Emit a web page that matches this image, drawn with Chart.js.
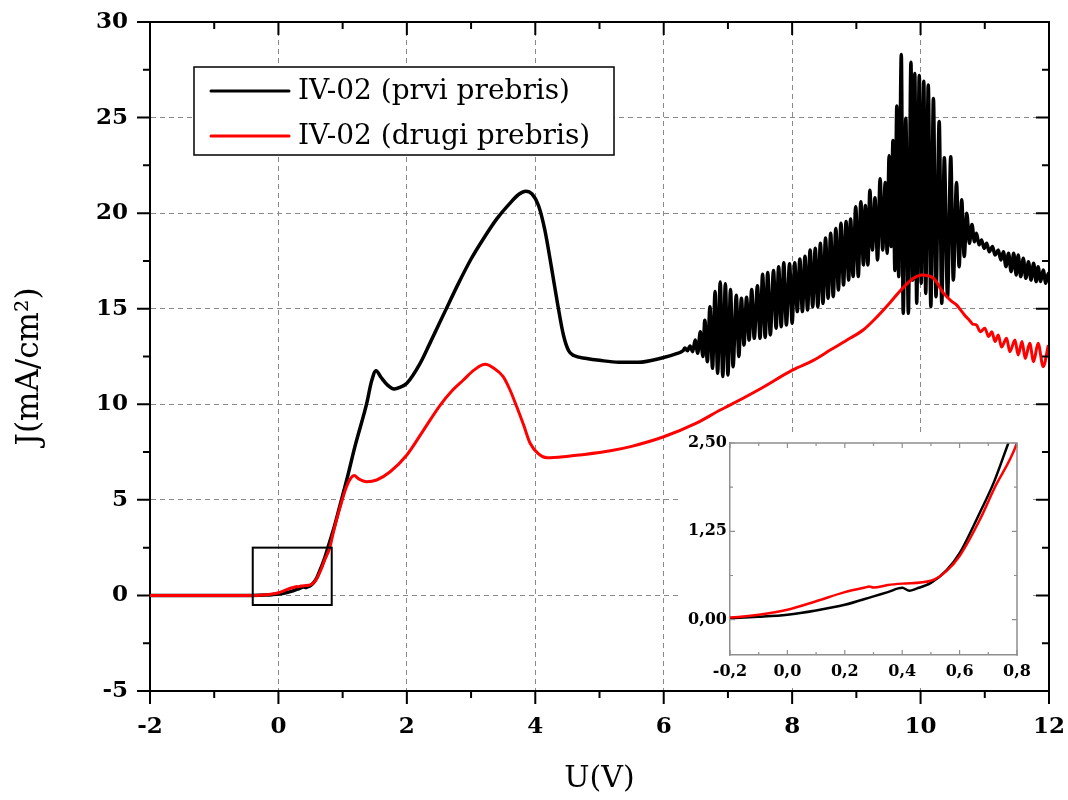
<!DOCTYPE html>
<html>
<head>
<meta charset="utf-8">
<script src="https://cdn.jsdelivr.net/npm/chart.js@4.4.1/dist/chart.umd.min.js"></script>
<style>
  html, body { margin: 0; padding: 0; background: #fff; }
  #wrap { position: relative; width: 1068px; height: 800px; }
  #main { position: absolute; left: 0; top: 0; }
  #inset { position: absolute; left: 680px; top: 432px; }
</style>
</head>
<body>
<div id="wrap">
  <canvas id="main" width="1068" height="800"></canvas>
  <canvas id="inset" width="350" height="252"></canvas>
</div>
<script>
const seriesLabels = ['IV-02 (prvi prebris)', 'IV-02 (drugi prebris)'];
const seriesColors = ['#000000', '#ff0000'];
const axisTitleU = 'U(V)';
const axisTitleJ = 'J(mA/cm²)';

// First sweep: smooth part of the curve, U in V, J in mA/cm2
const prviU = [-2, -1.5, -1, -0.5, -0.3, -0.2, -0.1, 0, 0.1, 0.2, 0.3, 0.35, 0.4, 0.425, 0.45, 0.5, 0.555, 0.6, 0.67, 0.72, 0.77,
  0.855, 0.95, 1.06, 1.2, 1.375, 1.45, 1.52, 1.6, 1.7, 1.8, 1.9, 2.0, 2.2, 2.36, 2.6, 2.8, 3.0, 3.2, 3.4, 3.6, 3.75, 3.85, 3.95,
  4.05, 4.15, 4.25, 4.35, 4.44, 4.52, 4.6, 4.8, 5.0, 5.3, 5.6, 6.0, 6.2, 6.3];
const prviJ = [0, 0, 0, 0, 0.01, 0.02, 0.04, 0.07, 0.13, 0.21, 0.33, 0.39, 0.45, 0.41, 0.44, 0.52, 0.70, 0.94, 1.51, 1.95, 2.5,
  3.42, 4.6, 6.0, 7.9, 10.05, 11.2, 11.76, 11.4, 11.0, 10.8, 10.9, 11.1, 12.1, 13.2, 14.9, 16.3, 17.6, 18.7, 19.7, 20.5, 21.0, 21.15, 21.0,
  20.4, 19.1, 17.2, 15.2, 13.6, 12.8, 12.55, 12.4, 12.3, 12.2, 12.2, 12.45, 12.65, 12.8];

// First sweep: oscillating part (alternating maxima and minima)
const prviOscU = [6.33, 6.37, 6.41, 6.45, 6.49, 6.53, 6.57, 6.61, 6.64, 6.68, 6.72, 6.76, 6.80, 6.84, 6.88, 6.92, 6.96, 7.00,
  7.04, 7.08, 7.13, 7.17, 7.21, 7.25, 7.29, 7.33, 7.37, 7.41, 7.46, 7.50, 7.54, 7.58, 7.62, 7.66, 7.71, 7.75, 7.79, 7.83,
  7.87, 7.91, 7.96, 8.00, 8.04, 8.08, 8.12, 8.16, 8.20, 8.24, 8.28, 8.32, 8.36, 8.40, 8.44, 8.48, 8.52, 8.56, 8.60, 8.64,
  8.68, 8.72, 8.76, 8.80, 8.84, 8.88, 8.91, 8.95, 8.99, 9.03, 9.07, 9.11, 9.14, 9.18, 9.21, 9.25, 9.29, 9.33, 9.37, 9.41,
  9.45, 9.48, 9.51, 9.54, 9.57, 9.60, 9.63, 9.66, 9.70, 9.73, 9.77, 9.81, 9.85, 9.88, 9.91, 9.94, 9.98, 10.01, 10.05, 10.08,
  10.12, 10.16, 10.20, 10.24, 10.29, 10.33, 10.37, 10.42, 10.47, 10.51, 10.56, 10.60, 10.64, 10.68, 10.72, 10.76, 10.80, 10.84,
  10.87, 10.91, 10.95, 10.99, 11.03, 11.07, 11.12, 11.16, 11.21, 11.25, 11.29, 11.33, 11.37, 11.41, 11.45, 11.49, 11.52, 11.56,
  11.60, 11.64, 11.68, 11.72, 11.76, 11.80, 11.83, 11.87, 11.91, 11.95, 11.99, 12.0];
const prviOscJ = [12.95, 12.80, 13.05, 12.75, 13.36, 12.67, 13.8, 12.5, 14.4, 12.23, 15.1, 11.88, 15.9, 11.62, 16.4, 11.45, 16.3, 11.53,
  16.0, 11.97, 15.7, 12.5, 15.55, 13.1, 15.6, 13.36, 16.0, 13.45, 16.2, 13.45, 16.8, 13.5, 16.9, 13.63, 17.0, 13.98, 17.2, 14.06,
  17.4, 14.15, 17.35, 14.24, 17.4, 14.85, 17.6, 14.85, 17.75, 14.93, 18.07, 15.1, 18.16, 15.1, 18.42, 15.28, 18.7, 15.55, 18.95, 15.63,
  19.2, 15.98, 19.47, 16.24, 19.56, 16.5, 19.7, 16.68, 20.34, 16.68, 20.6, 17.29, 20.4, 17.29, 21.2, 18.07, 20.8, 17.55, 21.8, 18.07,
  21.6, 17.9, 23.0, 18.25, 23.8, 17.0, 25.6, 16.68, 28.3, 14.76, 24.97, 14.76, 27.9, 16.5, 27.3, 15.28, 27.2, 16.33, 26.9, 15.8,
  26.7, 15.1, 26.0, 15.63, 24.8, 15.28, 22.9, 15.63, 22.95, 16.5, 21.6, 17.2, 20.7, 17.73, 20.0, 18.42, 19.4, 18.5,
  18.95, 18.34, 18.6, 18.16, 18.42, 17.98, 18.25, 17.81, 18.07, 17.55, 17.98, 17.2, 17.9, 16.94, 17.9, 16.77, 17.81, 16.68,
  17.64, 16.59, 17.46, 16.5, 17.38, 16.42, 17.2, 16.42, 17.03, 16.33, 16.85, 16.6];

// Second sweep: smooth part
const drugiU = [-2, -1.5, -1, -0.5, -0.3, -0.2, -0.1, 0, 0.1, 0.2, 0.27, 0.285, 0.30, 0.35, 0.4, 0.5, 0.555, 0.6, 0.67, 0.72, 0.8,
  0.855, 0.95, 1.06, 1.13, 1.18, 1.25, 1.375, 1.53, 1.74, 2.0, 2.25, 2.52, 2.7, 2.88, 3.05, 3.22, 3.35, 3.5, 3.6, 3.71, 3.82, 3.92,
  4.05, 4.18, 4.44, 4.7, 5.17, 5.5, 6.0, 6.5, 6.88, 7.0, 7.5, 8.01, 8.33, 8.6, 8.9, 9.11, 9.3, 9.52, 9.7, 9.89, 10.02, 10.2,
  10.36, 10.48, 10.56];
const drugiJ = [0, 0, 0, 0, 0.01, 0.03, 0.07, 0.14, 0.26, 0.39, 0.455, 0.47, 0.455, 0.49, 0.51, 0.55, 0.69, 0.9, 1.41, 1.85, 2.5,
  3.3, 4.5, 5.69, 6.15, 6.27, 6.1, 5.95, 6.04, 6.47, 7.35, 8.6, 9.96, 10.7, 11.27, 11.8, 12.09, 11.9, 11.45, 10.8, 9.88, 8.9, 7.96,
  7.4, 7.2, 7.25, 7.35, 7.57, 7.8, 8.3, 9.0, 9.7, 9.9, 10.8, 11.8, 12.3, 12.85, 13.45, 13.9, 14.5, 15.3, 16.0, 16.6, 16.77, 16.6,
  15.8, 15.4, 15.2];

// Second sweep: ripple at the high-voltage end
const drugiOscU = [10.62, 10.69, 10.76, 10.81, 10.87, 10.93, 11.0, 11.06, 11.11, 11.16, 11.21, 11.26, 11.34, 11.39, 11.47, 11.52,
  11.58, 11.63, 11.70, 11.76, 11.83, 11.91, 11.99];
const drugiOscJ = [14.95, 14.65, 14.4, 14.2, 14.15, 13.8, 13.98, 13.54, 13.8, 13.28, 13.63, 13.0, 13.45, 12.75, 13.36, 12.58,
  13.28, 12.4, 13.19, 12.23, 13.19, 11.97, 13.1];

// Axis ticks
const mainXMajor = [-2, 0, 2, 4, 6, 8, 10, 12];
const mainXMinor = [-1, 1, 3, 5, 7, 9, 11];
const mainYMajor = [-5, 0, 5, 10, 15, 20, 25, 30];
const mainYMinor = [-2.5, 2.5, 7.5, 12.5, 17.5, 22.5, 27.5];
const insetXMajor = [-0.2, 0, 0.2, 0.4, 0.6, 0.8];
const insetXMinor = [-0.1, 0.1, 0.3, 0.5, 0.7];
const insetYMajor = [0, 1.25, 2.5];
const insetYMinor = [0.625, 1.875];

// Region shown enlarged in the inset
const zoomBoxU = [-0.4, 0.83];
const zoomBoxJ = [-0.5, 2.5];

const serif = "'DejaVu Serif', 'Liberation Serif', serif";

function toPoints(us, js) { return us.map((u, i) => ({ x: u, y: js[i] })); }
const prviData = toPoints(prviU.concat(prviOscU), prviJ.concat(prviOscJ));
const drugiData = toPoints(drugiU.concat(drugiOscU), drugiJ.concat(drugiOscJ));

function makeDatasets(widths) {
  return [
    { label: seriesLabels[0], data: prviData, borderColor: seriesColors[0], backgroundColor: seriesColors[0],
      borderWidth: widths[0], pointRadius: 0, cubicInterpolationMode: 'monotone', order: 1 },
    { label: seriesLabels[1], data: drugiData, borderColor: seriesColors[1], backgroundColor: seriesColors[1],
      borderWidth: widths[1], pointRadius: 0, cubicInterpolationMode: 'monotone', order: 0 }
  ];
}

function setTicks(values) {
  return function (scale) { scale.ticks = values.map(v => ({ value: v })); };
}

// fixed axis box sizes; label overhang is absorbed by the layout padding
function fitX(h) {
  return function (s) { s.height = h; s.paddingLeft = 0; s.paddingRight = 0; };
}
function fitY(w) {
  return function (s) { s.width = w; s.paddingTop = 0; s.paddingBottom = 0; };
}

function commaFmt(digits) {
  return function (v) {
    const n = Math.abs(v) < 1e-9 ? 0 : v;
    return n.toFixed(digits).replace('.', ',');
  };
}

// Frame with mirrored axes and major/minor tick marks
function drawFrame(chart, o) {
  const { ctx, chartArea: a } = chart;
  const xs = chart.scales.x, ys = chart.scales.y;
  ctx.save();
  ctx.strokeStyle = o.color;
  ctx.lineWidth = o.axisWidth;
  ctx.beginPath();
  ctx.moveTo(a.left - o.axisWidth / 2, a.top);
  ctx.lineTo(a.right, a.top);
  ctx.lineTo(a.right, a.bottom + o.axisWidth / 2);
  ctx.stroke();
  ctx.lineWidth = o.tickWidth;
  ctx.beginPath();
  const xt = (vals, len) => vals.forEach(v => {
    const p = xs.getPixelForValue(v);
    ctx.moveTo(p, a.bottom); ctx.lineTo(p, a.bottom + o.bottomSign * len);
    ctx.moveTo(p, a.top); ctx.lineTo(p, a.top + len);
  });
  const yt = (vals, len) => vals.forEach(v => {
    const p = ys.getPixelForValue(v);
    ctx.moveTo(a.left, p); ctx.lineTo(a.left + o.leftSign * len, p);
    ctx.moveTo(a.right, p); ctx.lineTo(a.right - len, p);
  });
  xt(o.xMajor, o.majorLen); xt(o.xMinor, o.minorLen);
  yt(o.yMajor, o.majorLen); yt(o.yMinor, o.minorLen);
  ctx.stroke();
  ctx.restore();
}

const mainDecor = {
  id: 'mainDecor',
  afterDatasetsDraw(chart) {
    const { ctx, chartArea: a } = chart;
    const xs = chart.scales.x, ys = chart.scales.y;
    ctx.save();
    // marked region
    const x0 = xs.getPixelForValue(zoomBoxU[0]), x1 = xs.getPixelForValue(zoomBoxU[1]);
    const y0 = ys.getPixelForValue(zoomBoxJ[1]), y1 = ys.getPixelForValue(zoomBoxJ[0]);
    ctx.strokeStyle = '#000';
    ctx.lineWidth = 2;
    ctx.strokeRect(x0, y0, x1 - x0, y1 - y0);
    // legend
    const lx = a.left + 44, ly = a.top + 45, lw = 420, lh = 88;
    ctx.fillStyle = '#fff';
    ctx.fillRect(lx, ly, lw, lh);
    ctx.lineWidth = 1.5;
    ctx.strokeRect(lx, ly, lw, lh);
    ctx.font = "28px " + serif;
    ctx.textBaseline = 'middle';
    ctx.textAlign = 'left';
    chart.data.datasets.forEach((ds, i) => {
      const yy = ly + 24 + i * 45;
      ctx.strokeStyle = ds.borderColor;
      ctx.lineWidth = 3;
      ctx.lineCap = 'round';
      ctx.beginPath();
      ctx.moveTo(lx + 17, yy); ctx.lineTo(lx + 95, yy);
      ctx.stroke();
      ctx.fillStyle = '#000';
      ctx.fillText(ds.label, lx + 104, yy + 1);
    });
    ctx.restore();
  },
  afterDraw(chart) {
    drawFrame(chart, {
      color: '#000', axisWidth: 2, tickWidth: 2, majorLen: 13, minorLen: 7,
      bottomSign: 1, leftSign: -1,
      xMajor: mainXMajor, xMinor: mainXMinor, yMajor: mainYMajor, yMinor: mainYMinor
    });
    // vertical axis title, centred a little below the plot middle
    const { ctx, chartArea: a } = chart;
    ctx.save();
    ctx.translate(30, (a.top + a.bottom) / 2 + 10);
    ctx.rotate(-Math.PI / 2);
    ctx.font = "31px " + serif;
    ctx.fillStyle = '#000';
    ctx.textAlign = 'center';
    ctx.textBaseline = 'middle';
    ctx.fillText(axisTitleJ, 0, 0);
    ctx.restore();
  }
};

new Chart(document.getElementById('main'), {
  type: 'line',
  data: { datasets: makeDatasets([3.5, 3]) },
  plugins: [mainDecor],
  options: {
    responsive: false,
    animation: false,
    devicePixelRatio: 1,
    layout: { padding: { left: 0, right: 19, top: 22, bottom: 0 } },
    plugins: { legend: { display: false }, tooltip: { enabled: false } },
    scales: {
      x: {
        type: 'linear', min: -2, max: 12,
        afterBuildTicks: setTicks(mainXMajor),
        afterFit: fitX(109),
        grid: { color: '#8a8a8a', lineWidth: 1, drawTicks: false },
        border: { display: true, color: '#000', width: 2, dash: [5, 4] },
        ticks: { padding: 22, maxRotation: 0, color: '#000',
          font: { family: serif, size: 23, weight: 'bold' }, callback: v => String(v) },
        title: { display: true, text: axisTitleU, color: '#000', padding: { top: 0, bottom: 3 },
          font: { family: serif, size: 30 } }
      },
      y: {
        type: 'linear', min: -5, max: 30,
        afterBuildTicks: setTicks(mainYMajor),
        afterFit: fitY(150),
        grid: { color: '#8a8a8a', lineWidth: 1, drawTicks: false },
        border: { display: true, color: '#000', width: 2, dash: [5, 4] },
        ticks: { padding: 22, color: '#000',
          font: { family: serif, size: 23, weight: 'bold' }, callback: v => String(v) },
        title: { display: false }
      }
    }
  }
});

const insetDecor = {
  id: 'insetDecor',
  beforeDraw(chart) {
    const ctx = chart.ctx;
    ctx.save();
    ctx.fillStyle = '#fff';
    ctx.fillRect(0, 0, chart.width, chart.height);
    ctx.restore();
  },
  afterDraw(chart) {
    drawFrame(chart, {
      color: '#8f8f8f', axisWidth: 1.5, tickWidth: 1.2, majorLen: 5, minorLen: 3,
      bottomSign: -1, leftSign: 1,
      xMajor: insetXMajor, xMinor: insetXMinor, yMajor: insetYMajor, yMinor: insetYMinor
    });
  }
};

new Chart(document.getElementById('inset'), {
  type: 'line',
  data: { datasets: makeDatasets([2.5, 2.5]) },
  plugins: [insetDecor],
  options: {
    responsive: false,
    animation: false,
    devicePixelRatio: 1,
    layout: { padding: { left: 0, right: 13, top: 11, bottom: 0 } },
    plugins: { legend: { display: false }, tooltip: { enabled: false } },
    scales: {
      x: {
        type: 'linear', min: -0.2, max: 0.8,
        afterBuildTicks: setTicks(insetXMajor),
        afterFit: fitX(29),
        grid: { display: false, drawTicks: false },
        border: { display: true, color: '#8f8f8f', width: 1.5 },
        ticks: { padding: 7, maxRotation: 0, color: '#000',
          font: { family: serif, size: 16, weight: 'bold' }, callback: commaFmt(1) }
      },
      y: {
        type: 'linear', min: -0.5, max: 2.5,
        afterBuildTicks: setTicks(insetYMajor),
        afterFit: fitY(50),
        grid: { display: false, drawTicks: false },
        border: { display: true, color: '#8f8f8f', width: 1.5 },
        ticks: { padding: 3, color: '#000',
          font: { family: serif, size: 16, weight: 'bold' }, callback: commaFmt(2) }
      }
    }
  }
});
</script>
</body>
</html>
